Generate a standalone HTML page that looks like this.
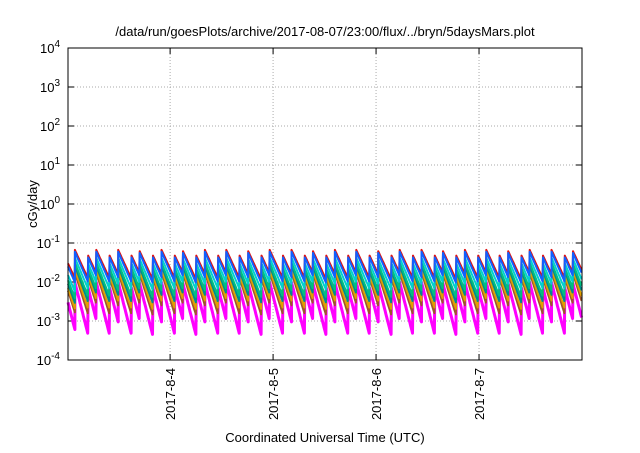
<!DOCTYPE html>
<html><head><meta charset="utf-8"><style>
body{margin:0;background:#fff;width:640px;height:448px;overflow:hidden}
svg{font-family:"Liberation Sans",sans-serif}
</style></head><body>
<svg id="c" width="640" height="448"></svg>
<script>
const pulseHours=[1.6,4.7,6.6,9.7,11.7,14.8,16.7,19.8,21.8,24.9,26.8,29.9,31.9,35.0,36.9,40.0,42.0,45.1,47.0,50.1,52.1,55.2,57.1,60.2,62.2,65.3,67.2,70.3,72.3,75.4,77.3,80.4,82.4,85.5,87.4,90.5,92.5,95.6,97.5,100.6,102.6,105.7,107.6,110.7,112.7,115.8,117.7];
const pulsePeaks=[0.07,0.05,0.07,0.05,0.07,0.05,0.065,0.05,0.07,0.05,0.065,0.05,0.07,0.05,0.07,0.05,0.065,0.05,0.07,0.05,0.07,0.05,0.065,0.05,0.07,0.05,0.07,0.05,0.065,0.05,0.07,0.05,0.07,0.05,0.065,0.05,0.07,0.05,0.07,0.05,0.065,0.05,0.07,0.05,0.07,0.05,0.065];
const seriesNames=["magenta","brown","orange","teal","green","cyan","red","blue"];
const seriesColors=["#ff00ff","#a0522d","#e0a000","#008b8b","#00c080","#00d0d0","#e01010","#1060ff"];
const seriesScale=[0.14,0.25,0.3,0.38,0.45,0.6,0.95,0.85];
const seriesDecay=[1.0,0.8,0.75,0.7,0.65,0.6,0.55,0.58];
const startLevel=[0.003,0.006,0.007,0.009,0.011,0.015,0.03,0.025];
const yTicks=[-4,-3,-2,-1,0,1,2,3,4];
const xTickHours=[23.8,47.8,71.8,95.8];
const xTickLabels=["2017-8-4","2017-8-5","2017-8-6","2017-8-7"];
const L=68,R=582,T=48,B=360,H0=0,H1=119.8;
const X=h=>L+(h-H0)/(H1-H0)*(R-L);
const Y=v=>B-(Math.log10(v)+4)/8*(B-T);
const ns="http://www.w3.org/2000/svg",svg=document.getElementById('c');
function mk(t,a,p){const e=document.createElementNS(ns,t);for(const k in a)e.setAttribute(k,a[k]);(p||svg).appendChild(e);return e;}
yTicks.forEach(d=>{const y=B-(d+4)/8*(B-T);
 if(d>-4&&d<4){const g=mk('line',{x1:L,x2:R,y1:y,y2:y,stroke:'#aaa','stroke-dasharray':'1,2'});}
 mk('line',{x1:L,x2:L+6,y1:y,y2:y,stroke:'#000'});mk('line',{x1:R,x2:R-6,y1:y,y2:y,stroke:'#000'});
 const t=mk('text',{x:L-8,y:y+5,'text-anchor':'end','font-size':13});
 
 t.innerHTML='10<tspan dy="-6" font-size="10">'+d+'</tspan>';});
xTickHours.forEach((h,i)=>{const x=X(h);
 const g=mk('line',{x1:x,x2:x,y1:T,y2:B,stroke:'#aaa','stroke-dasharray':'1,2'});
 mk('line',{x1:x,x2:x,y1:B,y2:B-6,stroke:'#000'});mk('line',{x1:x,x2:x,y1:T,y2:T+6,stroke:'#000'});
 const t=mk('text',{x:0,y:0,'text-anchor':'end','font-size':13,transform:`translate(${x+5},368) rotate(-90)`});
 t.textContent=xTickLabels[i];});
seriesNames.forEach((n,s)=>{let pts=[];
 const seg=(ha,hb,v0)=>{for(let h=ha;h<=hb+1e-9;h+=0.2){pts.push(X(h).toFixed(1)+','+Y(v0*Math.exp(-seriesDecay[s]*(h-ha))).toFixed(1));}};
 let prevH=H0,prevV=startLevel[s];
 for(let i=0;i<=pulseHours.length;i++){const hb=i<pulseHours.length?pulseHours[i]:H1;seg(prevH,hb,prevV);
  if(i<pulseHours.length){prevH=hb;prevV=pulsePeaks[i]*seriesScale[s];}}
 const p=mk('polyline',{points:pts.join(' '),fill:'none',stroke:seriesColors[s],'stroke-width':s==0?3:2,'stroke-linejoin':'round'});
 });
const f=mk('rect',{x:L,y:T,width:R-L,height:B-T,fill:'none',stroke:'#000'});

</script>
<svg width="640" height="448" style="position:absolute;left:0;top:0">
<text x="325" y="36" text-anchor="middle" font-size="13" font-family="Liberation Sans">/data/run/goesPlots/archive/2017-08-07/23:00/flux/../bryn/5daysMars.plot</text>
<text x="325" y="442" text-anchor="middle" font-size="13" font-family="Liberation Sans">Coordinated Universal Time (UTC)</text>
<text transform="translate(37,204) rotate(-90)" text-anchor="middle" font-size="13" font-family="Liberation Sans">cGy/day</text>
</svg>
</body></html>
